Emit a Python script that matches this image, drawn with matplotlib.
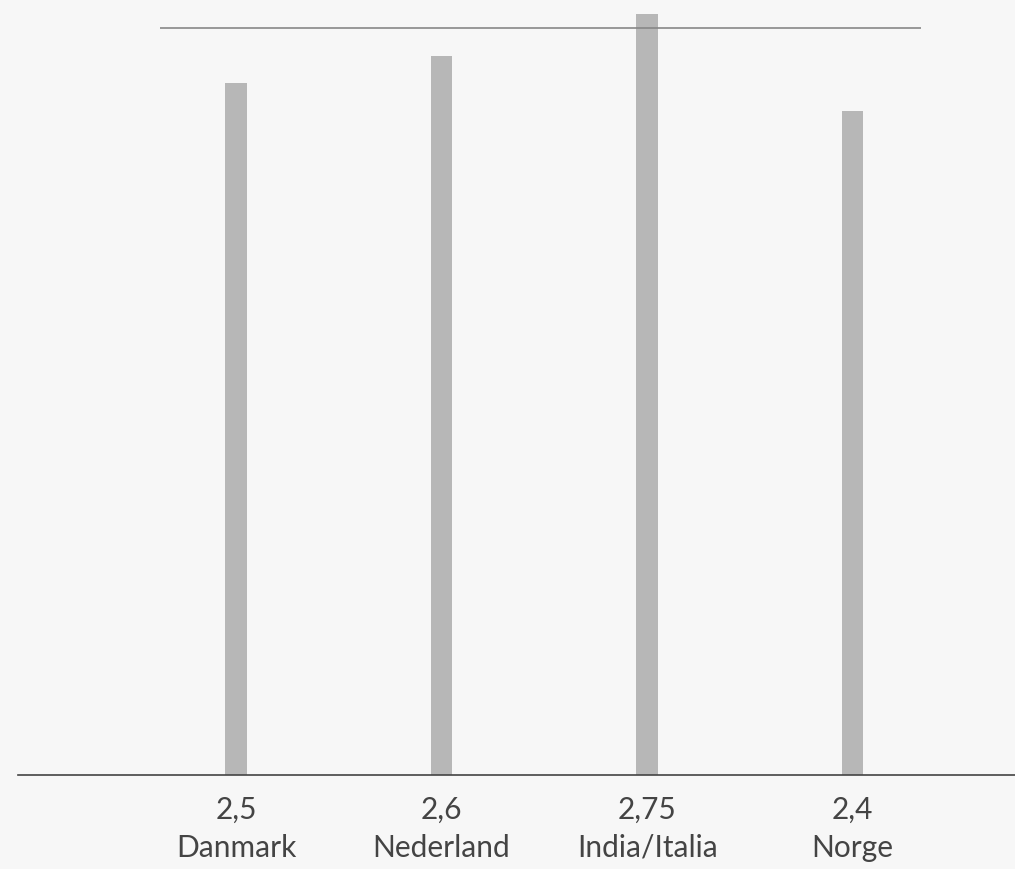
import matplotlib.pyplot as plt

plt.rcParams['font.family'] = ['Lato', 'DejaVu Sans']

land = ['Danmark', 'Nederland', 'India/Italia', 'Norge']
verdi = [2.5, 2.6, 2.75, 2.4]
verdi_tekst = ['2,5', '2,6', '2,75', '2,4']
referanse = 2.7

bg = '#f7f7f7'
fig = plt.figure(figsize=(10.15, 8.7), dpi=100, facecolor=bg)
ax = fig.add_axes([0.018, 0.108, 0.982, 0.892], facecolor=bg)

x = list(range(len(land)))
ax.bar(x, verdi, width=0.105, color='#b7b7b7', zorder=2)
ax.hlines(referanse, -0.37, 3.335, color='#888888', linewidth=1.2, zorder=3)

ax.set_xlim(-1.06, 3.79)
ax.set_ylim(0, 2.805)

ax.set_xticks(x)
ax.set_xticklabels([f"{v}\n{l}" for v, l in zip(verdi_tekst, land)],
                   fontsize=21.5, color='#444444', linespacing=1.45)
ax.tick_params(axis='x', length=0, pad=14)
ax.set_yticks([])
for s in ['top', 'right', 'left']:
    ax.spines[s].set_visible(False)
ax.spines['bottom'].set_color('#444444')
ax.spines['bottom'].set_linewidth(1.2)

fig.savefig('out.png', facecolor=bg)
